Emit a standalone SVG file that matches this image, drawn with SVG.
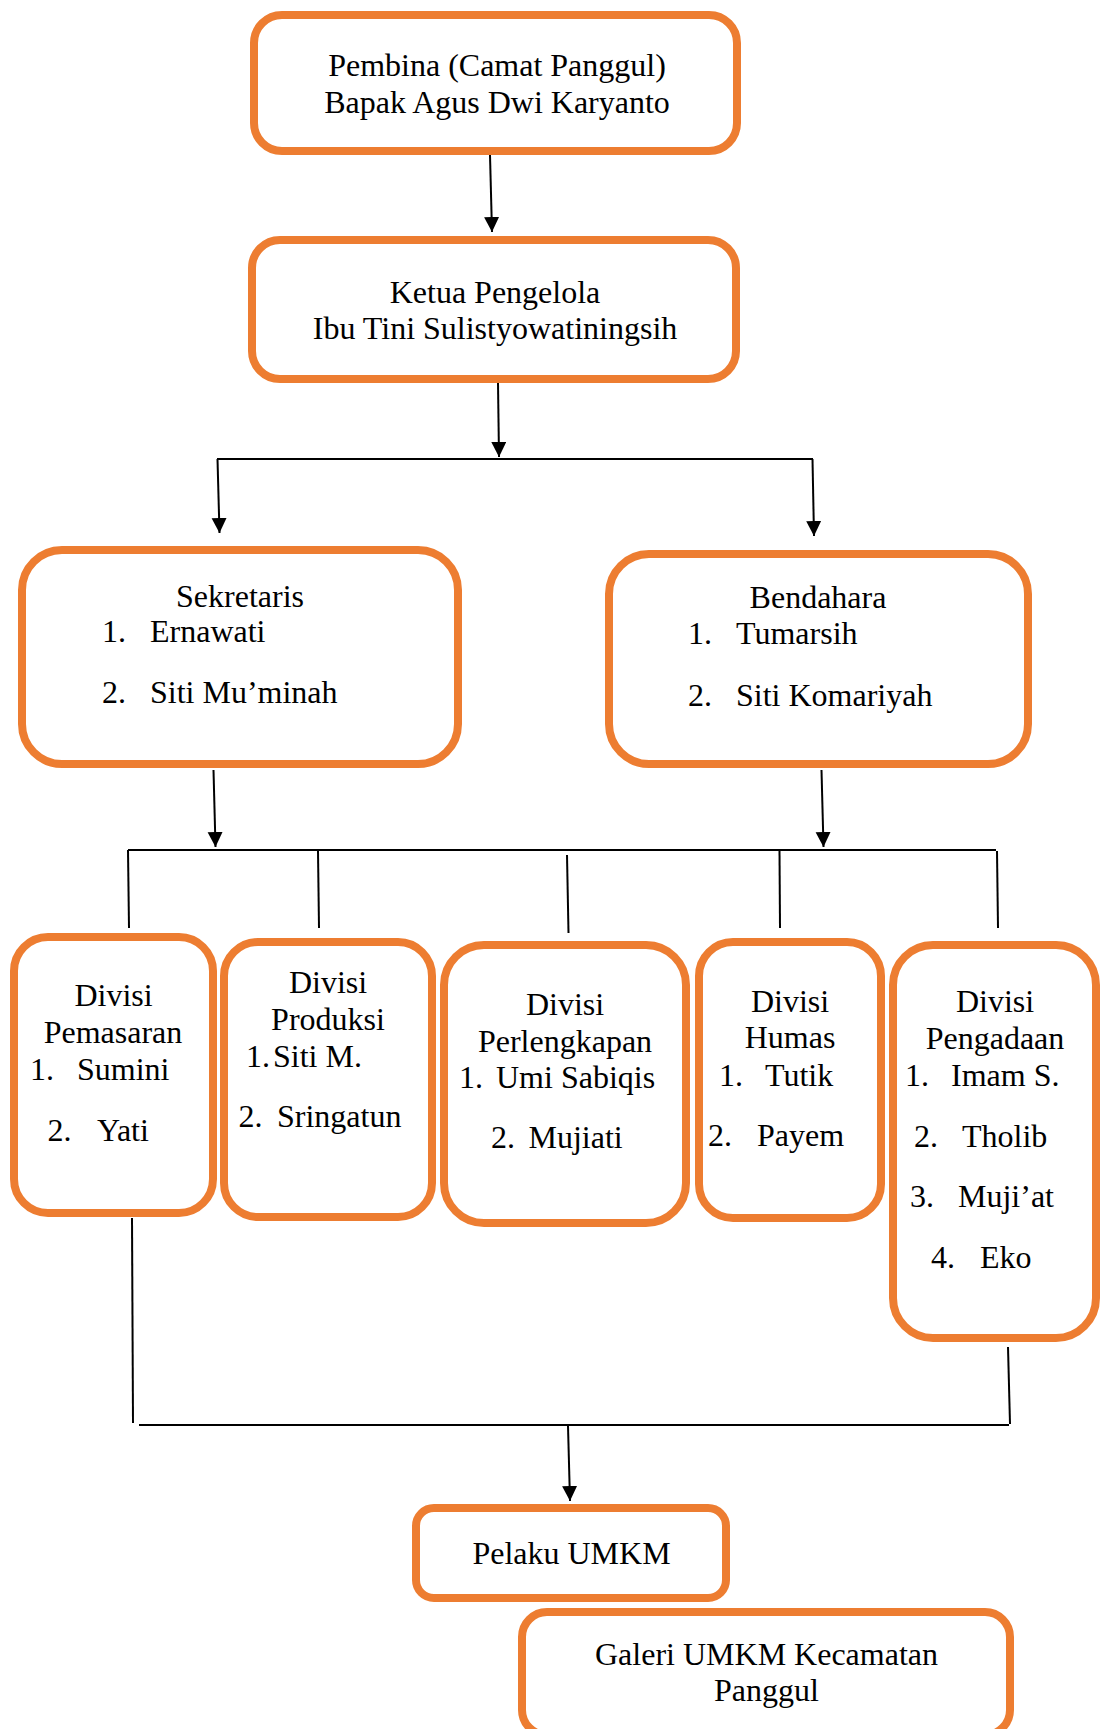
<svg xmlns="http://www.w3.org/2000/svg" width="1101" height="1729" viewBox="0 0 1101 1729">
<style>
.box{fill:#fff;stroke:#ED7D31;stroke-width:8}
text{font-family:"Liberation Serif","Times New Roman",serif;font-size:32px;fill:#000}
.c{text-anchor:middle}
.ln{stroke:#000;stroke-width:2;fill:none}
</style>
<defs>
<marker id="ah" markerUnits="userSpaceOnUse" markerWidth="16" markerHeight="16" refX="15" refY="7.5" orient="auto">
<path d="M0,0 L15,7.5 L0,15 z" fill="#000"/>
</marker>
</defs>
<rect width="1101" height="1729" fill="#fff"/>
<g id="connectors">
<line class="ln" x1="490" y1="155" x2="492" y2="232" marker-end="url(#ah)"/>
<line class="ln" x1="498" y1="383" x2="499" y2="457" marker-end="url(#ah)"/>
<line class="ln" x1="217" y1="459" x2="813" y2="459"/>
<line class="ln" x1="217.5" y1="459" x2="219.5" y2="533" marker-end="url(#ah)"/>
<line class="ln" x1="812.5" y1="459" x2="814" y2="536" marker-end="url(#ah)"/>
<line class="ln" x1="213.5" y1="770" x2="215.5" y2="847" marker-end="url(#ah)"/>
<line class="ln" x1="821.5" y1="770" x2="823.5" y2="847" marker-end="url(#ah)"/>
<line class="ln" x1="128" y1="850" x2="996" y2="850"/>
<line class="ln" x1="128" y1="850" x2="129" y2="928"/>
<line class="ln" x1="318" y1="851" x2="319" y2="928"/>
<line class="ln" x1="567" y1="855" x2="568.5" y2="933"/>
<line class="ln" x1="779.5" y1="851" x2="780" y2="928"/>
<line class="ln" x1="997" y1="851" x2="998" y2="928"/>
<line class="ln" x1="132" y1="1218" x2="133" y2="1423"/>
<line class="ln" x1="139" y1="1425" x2="1009" y2="1425"/>
<line class="ln" x1="1008" y1="1347" x2="1010" y2="1424"/>
<line class="ln" x1="568" y1="1426" x2="570" y2="1501" marker-end="url(#ah)"/>
</g>
<g id="pembina">
<rect class="box" x="254" y="15" width="483" height="136" rx="28"/>
<text class="c" x="497" y="76">Pembina (Camat Panggul)</text>
<text class="c" x="497" y="113">Bapak Agus Dwi Karyanto</text>
</g>
<g id="ketua">
<rect class="box" x="252" y="240" width="484" height="139" rx="28"/>
<text class="c" x="495" y="303">Ketua Pengelola</text>
<text class="c" x="495" y="339">Ibu Tini Sulistyowatiningsih</text>
</g>
<g id="sekretaris">
<rect class="box" x="22" y="550" width="436" height="214" rx="40"/>
<text class="c" x="240" y="607">Sekretaris</text>
<text x="102" y="642">1.</text><text x="150" y="642">Ernawati</text>
<text x="102" y="703">2.</text><text x="150" y="703">Siti Mu’minah</text>
</g>
<g id="bendahara">
<rect class="box" x="609" y="554" width="419" height="210" rx="40"/>
<text class="c" x="818" y="608">Bendahara</text>
<text x="688" y="644">1.</text><text x="736" y="644">Tumarsih</text>
<text x="688" y="706">2.</text><text x="736" y="706">Siti Komariyah</text>
</g>
<g id="pemasaran">
<rect class="box" x="14" y="937" width="199" height="276" rx="34"/>
<text class="c" x="113.5" y="1006">Divisi</text>
<text class="c" x="113" y="1043">Pemasaran</text>
<text x="30" y="1080">1.</text><text x="77" y="1080">Sumini</text>
<text x="47.5" y="1141">2.</text><text x="97" y="1141">Yati</text>
</g>
<g id="produksi">
<rect class="box" x="224" y="942" width="208" height="275" rx="34"/>
<text class="c" x="328" y="993">Divisi</text>
<text class="c" x="328" y="1030">Produksi</text>
<text x="246" y="1067">1.</text><text x="273" y="1067">Siti M.</text>
<text x="238.5" y="1127">2.</text><text x="277" y="1127">Sringatun</text>
</g>
<g id="perlengkapan">
<rect class="box" x="444" y="945" width="242" height="278" rx="40"/>
<text class="c" x="565" y="1015">Divisi</text>
<text class="c" x="565" y="1052">Perlengkapan</text>
<text x="459" y="1088">1.</text><text x="496" y="1088">Umi Sabiqis</text>
<text x="491" y="1148">2.</text><text x="528.5" y="1148">Mujiati</text>
</g>
<g id="humas">
<rect class="box" x="699" y="942" width="182" height="276" rx="34"/>
<text class="c" x="790" y="1012">Divisi</text>
<text class="c" x="790" y="1048">Humas</text>
<text x="719" y="1086">1.</text><text x="765" y="1086">Tutik</text>
<text x="708" y="1146">2.</text><text x="757" y="1146">Payem</text>
</g>
<g id="pengadaan">
<rect class="box" x="893" y="945" width="203" height="393" rx="40"/>
<text class="c" x="995" y="1012">Divisi</text>
<text class="c" x="995" y="1049">Pengadaan</text>
<text x="905" y="1086">1.</text><text x="951" y="1086">Imam S.</text>
<text x="914" y="1147">2.</text><text x="962" y="1147">Tholib</text>
<text x="910" y="1207">3.</text><text x="958" y="1207">Muji’at</text>
<text x="931" y="1268">4.</text><text x="980" y="1268">Eko</text>
</g>
<g id="pelaku">
<rect class="box" x="416" y="1508" width="310" height="90" rx="18"/>
<text class="c" x="571.5" y="1564">Pelaku UMKM</text>
</g>
<g id="galeri">
<rect class="box" x="522" y="1612" width="488" height="123" rx="25"/>
<text class="c" x="766.5" y="1665">Galeri UMKM Kecamatan</text>
<text class="c" x="766.5" y="1701">Panggul</text>
</g>
</svg>
